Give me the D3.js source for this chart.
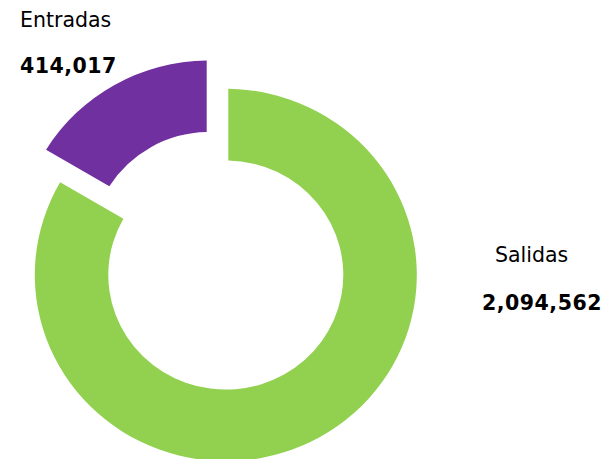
<!DOCTYPE html>
<html>
<head>
<meta charset="utf-8">
<title>Entradas / Salidas</title>
<script src="https://d3js.org/d3.v7.min.js"></script>
<style>
  body { margin: 0; background: #fff; }
  .lbl { font-family: "DejaVu Sans", sans-serif; font-size: 20.5px; fill: #000; }
  .val { font-family: "DejaVu Sans", sans-serif; font-size: 20.5px; font-weight: bold; fill: #000; letter-spacing: 0.5px; }
</style>
</head>
<body>
<div id="chart"></div>
<script>
// data
var labels = ["Salidas", "Entradas"];
var values = [2094562, 414017];
var colors = ["#92d050", "#7030a0"];
var exploded = [0, 33.5];

var width = 610, height = 459;
var cx = 225.8, cy = 275,
    outer = 191, inner = 117.5,
    squash = 0.975;

var svg = d3.select("#chart").append("svg")
    .attr("width", width)
    .attr("height", height);

var pie = d3.pie().sort(null).value(function(d) { return d; });
var arc = d3.arc()
    .innerRadius(inner)
    .outerRadius(outer)
    .padRadius(100)
    .padAngle(0.05);

var g = svg.append("g")
    .attr("transform", "translate(" + cx + "," + cy + ") scale(1," + squash + ")");

g.selectAll("path.slice")
  .data(pie(values))
  .enter().append("path")
    .attr("class", "slice")
    .attr("fill", function(d, i) { return colors[i]; })
    .attr("d", arc)
    .attr("transform", function(d, i) {
      var a = (d.startAngle + d.endAngle) / 2;
      return "translate(" + (Math.sin(a) * exploded[i]) + "," + (-Math.cos(a) * exploded[i]) + ")";
    });

// labels
var fmt = d3.format(",");
var labelPos = [
  { name: [495, 262], value: [482, 310] },
  { name: [20, 27], value: [20, 73] }
];

labels.forEach(function(l, i) {
  svg.append("text").attr("class", "lbl")
    .attr("x", labelPos[i].name[0]).attr("y", labelPos[i].name[1])
    .text(l);
  svg.append("text").attr("class", "val")
    .attr("x", labelPos[i].value[0]).attr("y", labelPos[i].value[1])
    .text(fmt(values[i]));
});
</script>
</body>
</html>
